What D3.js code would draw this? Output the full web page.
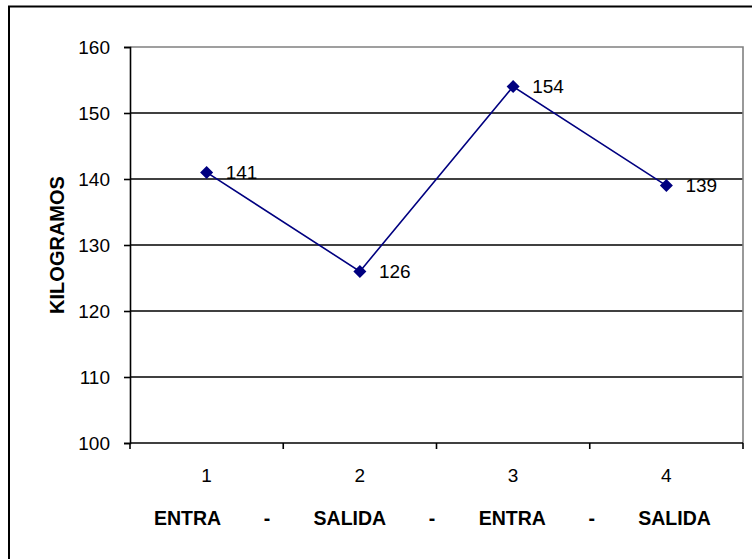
<!DOCTYPE html>
<html>
<head>
<meta charset="utf-8">
<script src="https://cdn.jsdelivr.net/npm/d3@7/dist/d3.min.js"></script>
<style>
  html, body { margin: 0; padding: 0; background: #fff; }
  svg { display: block; font-family: "Liberation Sans", Arial, sans-serif; }
</style>
</head>
<body>
<svg id="chart" width="752" height="559"></svg>
<script>
// Weight readings per reading number
const categories = ["1", "2", "3", "4"];
const kilos = [141, 126, 154, 139];
const yTicks = [100, 110, 120, 130, 140, 150, 160];
const yTitle = "KILOGRAMOS";
const xCaption = "ENTRA        -        SALIDA        -        ENTRA        -        SALIDA";

const svg = d3.select("#chart");
const W = 752, H = 559;
const plot = { left: 130, top: 47, right: 743, bottom: 443 };

// outer frame (only the left and top edges fall inside the page)
svg.append("rect")
  .attr("x", 9).attr("y", 6.5)
  .attr("width", W + 20).attr("height", H + 20)
  .attr("fill", "#fff").attr("stroke", "#000").attr("stroke-width", 2);

const x = d3.scaleBand().domain(categories).range([plot.left, plot.right]).paddingInner(0).paddingOuter(0);
const y = d3.scaleLinear().domain([100, 160]).range([plot.bottom, plot.top]);

// horizontal gridlines
svg.append("g").selectAll("line")
  .data(yTicks.filter(v => v > 100 && v < 160))
  .join("line")
  .attr("x1", plot.left).attr("x2", plot.right)
  .attr("y1", d => y(d)).attr("y2", d => y(d))
  .attr("stroke", "#000").attr("stroke-width", 1.6);

// plot frame: grey top and right edges
svg.append("path")
  .attr("d", `M${plot.left},${y(160)}H${plot.right}V${plot.bottom}`)
  .attr("fill", "none").attr("stroke", "#808080").attr("stroke-width", 1.6);

// y axis
const yAxis = d3.axisLeft(y).tickValues(yTicks).tickSize(6).tickPadding(14).tickFormat(d3.format("d"));
const gy = svg.append("g").attr("transform", `translate(${plot.left},0)`).call(yAxis);
gy.select(".domain").attr("stroke", "#000").attr("stroke-width", 1.6);
gy.selectAll(".tick line").attr("stroke", "#000").attr("stroke-width", 1.6);
gy.selectAll(".tick text").attr("font-size", 19).attr("fill", "#000")
  .attr("font-family", "Liberation Sans, Arial, sans-serif");

// x axis: ticks at category boundaries, labels centred in each band
const gx = svg.append("g").attr("transform", `translate(0,${plot.bottom})`);
gx.append("line").attr("x1", plot.left).attr("x2", plot.right)
  .attr("stroke", "#000").attr("stroke-width", 1.6);
const bounds = categories.map(c => x(c)).concat([plot.right]);
gx.selectAll("line.tk").data(bounds).join("line").attr("class", "tk")
  .attr("x1", d => d).attr("x2", d => d).attr("y1", 0).attr("y2", 6)
  .attr("stroke", "#000").attr("stroke-width", 1.6);
gx.selectAll("text").data(categories).join("text")
  .attr("x", d => x(d) + x.bandwidth() / 2).attr("y", 39)
  .attr("text-anchor", "middle").attr("font-size", 19).attr("fill", "#000")
  .text(d => d);

// axis titles
svg.append("text")
  .attr("transform", `translate(64,${(plot.top + plot.bottom) / 2}) rotate(-90)`)
  .attr("text-anchor", "middle").attr("font-size", 20).attr("font-weight", "bold")
  .text(yTitle);

svg.append("text")
  .attr("x", 154).attr("y", 525)
  .attr("xml:space", "preserve").style("white-space", "pre")
  .attr("font-size", 19.5).attr("font-weight", "bold")
  .text(xCaption);

// series line and markers
const cx = d => x(d) + x.bandwidth() / 2;
const pts = categories.map((c, i) => [cx(c), y(kilos[i])]);
svg.append("path")
  .attr("d", d3.line()(pts))
  .attr("fill", "none").attr("stroke", "#000080").attr("stroke-width", 1.6);

svg.append("g").selectAll("path")
  .data(pts).join("path")
  .attr("transform", d => `translate(${d[0]},${d[1]})`)
  .attr("d", "M0,-6.5L6.5,0L0,6.5L-6.5,0Z")
  .attr("fill", "#000080");

// value labels
svg.append("g").selectAll("text")
  .data(kilos).join("text")
  .attr("x", (d, i) => pts[i][0] + 19)
  .attr("y", (d, i) => pts[i][1])
  .attr("dy", "0.36em")
  .attr("font-size", 19).attr("fill", "#000")
  .text(d => d);
</script>
</body>
</html>
